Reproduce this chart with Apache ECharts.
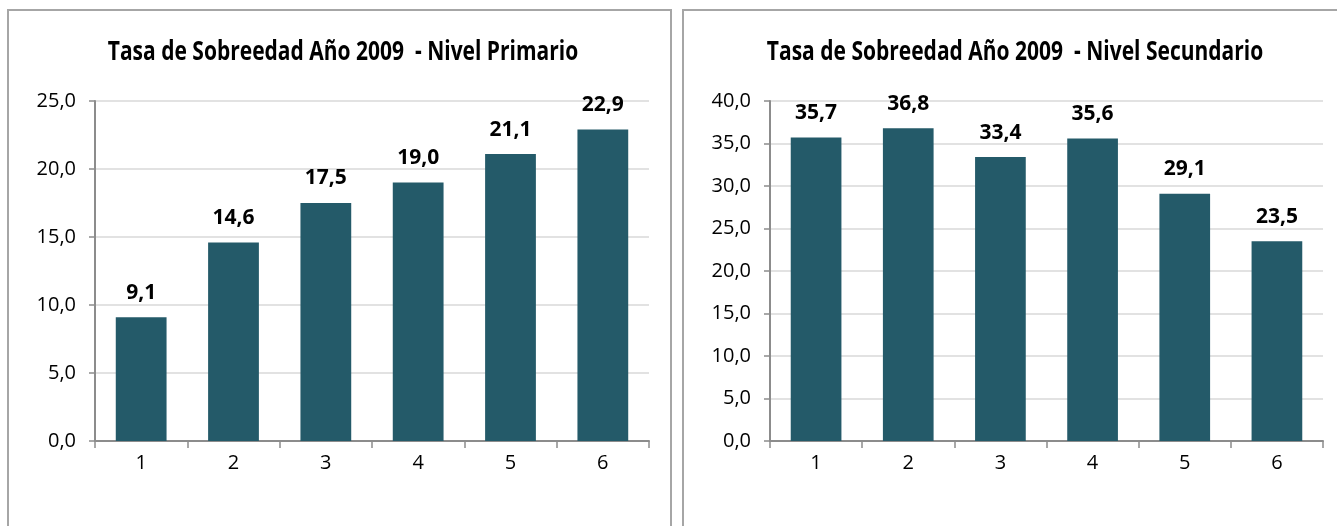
<!DOCTYPE html>
<html>
<head>
<meta charset="utf-8">
<script src="https://cdn.jsdelivr.net/npm/echarts@6/dist/echarts.min.js"></script>
<style>
  html, body { margin: 0; padding: 0; background: #fff; }
  #chart { width: 1337px; height: 526px; }
</style>
</head>
<body>
<div id="chart"></div>
<script>
// datos
const grados = ['1', '2', '3', '4', '5', '6'];
const primario = [9.1, 14.6, 17.5, 19.0, 21.1, 22.9];
const secundario = [35.7, 36.8, 33.4, 35.6, 29.1, 23.5];
const tituloPrimario = 'Tasa de Sobreedad Año 2009  - Nivel Primario';
const tituloSecundario = 'Tasa de Sobreedad Año 2009  - Nivel Secundario';

const fuente = '"Open Sans", sans-serif';
const azul = '#245a69';
const coma = v => v.toFixed(1).replace('.', ',');

const mychart = echarts.init(document.getElementById('chart'));

function ejeX(gridIndex) {
  return {
    type: 'category',
    gridIndex: gridIndex,
    data: grados,
    axisLine: { lineStyle: { color: '#8c8c8c', width: 2 } },
    axisTick: { show: true, length: 7, lineStyle: { color: '#8c8c8c', width: 1.5 } },
    axisLabel: { color: '#000', fontFamily: fuente, fontSize: 20, margin: 12 }
  };
}

function ejeY(gridIndex, max) {
  return {
    type: 'value',
    gridIndex: gridIndex,
    min: 0,
    max: max,
    interval: 5,
    axisLine: { show: true, lineStyle: { color: '#8c8c8c', width: 2 } },
    axisTick: { show: true, length: 6, lineStyle: { color: '#8c8c8c', width: 1.5 } },
    splitLine: { lineStyle: { color: '#d9d9d9', width: 1.5 } },
    axisLabel: { color: '#000', fontFamily: fuente, fontSize: 20, margin: 19, formatter: coma }
  };
}

function serie(idx, datos) {
  return {
    type: 'bar',
    xAxisIndex: idx,
    yAxisIndex: idx,
    data: datos,
    barWidth: '55%',
    itemStyle: { color: azul },
    label: {
      show: true,
      position: 'top',
      distance: 14,
      color: '#000',
      fontFamily: fuente,
      fontSize: 21,
      fontWeight: 'bold',
      formatter: p => coma(p.value)
    }
  };
}

// titulo: texto algo estirado en vertical como en el original
function titulo(texto, x) {
  return {
    type: 'text', x: x, y: 52, scaleY: 1.3,
    style: { text: texto, textAlign: 'center', textVerticalAlign: 'middle',
             font: 'bold 21px ' + fuente, fill: '#000' }
  };
}

mychart.setOption({
  animation: false,
  grid: [
    { left: 95, top: 101, width: 554, height: 340 },
    { left: 770, top: 101, width: 553, height: 340 }
  ],
  xAxis: [ejeX(0), ejeX(1)],
  yAxis: [ejeY(0, 25), ejeY(1, 40)],
  series: [serie(0, primario), serie(1, secundario)],
  graphic: [
    { type: 'rect', shape: { x: 8, y: 10, width: 663, height: 540 },
      style: { fill: 'none', stroke: '#a6a6a6', lineWidth: 2 } },
    { type: 'rect', shape: { x: 683, y: 10, width: 680, height: 540 },
      style: { fill: 'none', stroke: '#a6a6a6', lineWidth: 2 } },
    titulo(tituloPrimario, 343),
    titulo(tituloSecundario, 1015)
  ]
});
</script>
</body>
</html>
